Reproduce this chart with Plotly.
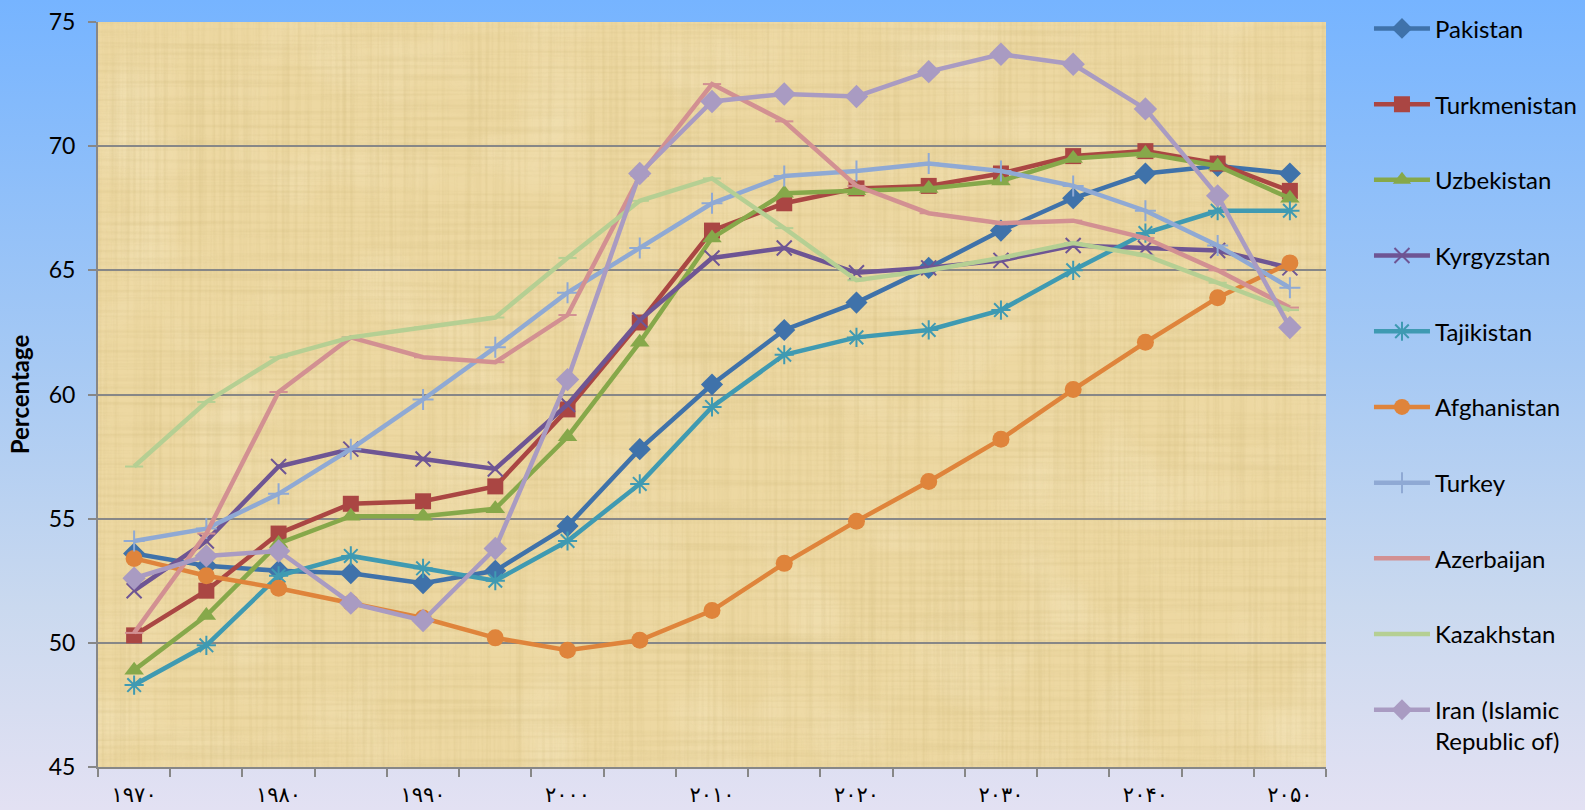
import base64
import plotly.graph_objects as go

# Years on the horizontal axis (5-year steps)
years = [1970, 1975, 1980, 1985, 1990, 1995, 2000, 2005, 2010,
         2015, 2020, 2025, 2030, 2035, 2040, 2045, 2050]

# Labelled years, written with Persian digits
tick_years = [1970, 1980, 1990, 2000, 2010, 2020, 2030, 2040, 2050]
tick_text = ["۱۹۷۰", "۱۹۸۰", "۱۹۹۰", "۲۰۰۰", "۲۰۱۰", "۲۰۲۰", "۲۰۳۰", "۲۰۴۰", "۲۰۵۰"]

pakistan = [53.6, 53.1, 52.9, 52.8, 52.4, 52.9, 54.7, 57.8, 60.4,
            62.6, 63.7, 65.1, 66.6, 67.9, 68.9, 69.2, 68.9]
turkmenistan = [50.3, 52.1, 54.4, 55.6, 55.7, 56.3, 59.4, 62.9, 66.6,
                67.7, 68.3, 68.4, 68.9, 69.6, 69.8, 69.3, 68.2]
uzbekistan = [48.9, 51.1, 54.0, 55.1, 55.1, 55.4, 58.3, 62.1, 66.3,
              68.1, 68.2, 68.3, 68.6, 69.5, 69.7, 69.2, 67.9]
kyrgyzstan = [52.1, 54.1, 57.1, 57.8, 57.4, 57.0, 59.6, 63.0, 65.5,
              65.9, 64.9, 65.1, 65.4, 66.0, 65.9, 65.8, 65.1]
tajikistan = [48.3, 49.9, 52.7, 53.5, 53.0, 52.5, 54.1, 56.4, 59.5,
              61.6, 62.3, 62.6, 63.4, 65.0, 66.5, 67.4, 67.4]
afghanistan = [53.4, 52.7, 52.2, 51.6, 51.0, 50.2, 49.7, 50.1, 51.3,
               53.2, 54.9, 56.5, 58.2, 60.2, 62.1, 63.9, 65.3]
turkey = [54.1, 54.6, 56.0, 57.8, 59.8, 61.9, 64.1, 65.9, 67.7,
          68.8, 69.0, 69.3, 69.0, 68.4, 67.4, 66.0, 64.3]
azerbaijan = [50.4, 54.4, 60.1, 62.3, 61.5, 61.3, 63.2, 68.8, 72.5,
              71.0, 68.4, 67.3, 66.9, 67.0, 66.3, 65.0, 63.5]
kazakhstan = [57.1, 59.7, 61.5, 62.3, 62.7, 63.1, 65.5, 67.8, 68.7,
              66.7, 64.6, 65.0, 65.5, 66.1, 65.6, 64.5, 63.4]
iran = [52.6, 53.5, 53.7, 51.6, 50.9, 53.8, 60.6, 68.9, 71.8,
        72.1, 72.0, 73.0, 73.7, 73.3, 71.5, 68.0, 62.7]

series = [
    ("Pakistan", pakistan, "#3F72AA", "diamond", 17, False),
    ("Turkmenistan", turkmenistan, "#AA4643", "square", 16, False),
    ("Uzbekistan", uzbekistan, "#86A84A", "triangle-up", 17, False),
    ("Kyrgyzstan", kyrgyzstan, "#6E5594", "x-thin-open", 15, True),
    ("Tajikistan", tajikistan, "#3F9AB2", "asterisk-open", 16, True),
    ("Afghanistan", afghanistan, "#DF843B", "circle", 17, False),
    ("Turkey", turkey, "#8FA9D4", "cross-thin-open", 15, True),
    ("Azerbaijan", azerbaijan, "#D29092", "line-ew-open", 13, True),
    ("Kazakhstan", kazakhstan, "#B5CF93", "line-ew-open", 13, True),
    ("Iran (Islamic<br>Republic of)", iran, "#A99BC2", "diamond", 18, False),
]

fig = go.Figure()
for i, (name, vals, color, symbol, size, thin) in enumerate(series):
    marker = dict(symbol=symbol, size=size, color=color)
    if thin:
        marker["line"] = dict(color=color, width=2)
    fig.add_trace(go.Scatter(
        x=years, y=vals, name=name, mode="lines+markers",
        line=dict(color=color, width=4.5),
        marker=marker, legendgroup=f"g{i}",
    ))

# Page background: blue-to-lavender vertical gradient
bg_svg = (
    '<svg xmlns="http://www.w3.org/2000/svg" width="100" height="100" '
    'preserveAspectRatio="none" viewBox="0 0 100 100">'
    '<defs><linearGradient id="g" x1="0" y1="0" x2="0" y2="1">'
    '<stop offset="0" stop-color="#76B4FF"/>'
    '<stop offset="0.45" stop-color="#A6C9F4"/>'
    '<stop offset="0.75" stop-color="#CAD9EF"/>'
    '<stop offset="1" stop-color="#E3E1F3"/>'
    '</linearGradient></defs>'
    '<rect width="100" height="100" fill="url(#g)"/></svg>'
)

# Papyrus-like fibrous texture for the plotting area
pap_svg = (
    '<svg xmlns="http://www.w3.org/2000/svg" width="1228" height="745" '
    'preserveAspectRatio="none" viewBox="0 0 1228 745">'
    '<defs>'
    '<filter id="h" x="0" y="0" width="100%" height="100%">'
    '<feTurbulence type="fractalNoise" baseFrequency="0.004 0.25" numOctaves="2" seed="3"/>'
    '<feColorMatrix type="matrix" values="0 0 0 0 0.55  0 0 0 0 0.42  0 0 0 0 0.15  0 0 0 -1.3 0.75"/>'
    '</filter>'
    '<filter id="v" x="0" y="0" width="100%" height="100%">'
    '<feTurbulence type="fractalNoise" baseFrequency="0.25 0.004" numOctaves="2" seed="7"/>'
    '<feColorMatrix type="matrix" values="0 0 0 0 0.55  0 0 0 0 0.42  0 0 0 0 0.15  0 0 0 -1.3 0.75"/>'
    '</filter>'
    '<filter id="b" x="0" y="0" width="100%" height="100%">'
    '<feTurbulence type="fractalNoise" baseFrequency="0.012 0.012" numOctaves="2" seed="11"/>'
    '<feColorMatrix type="matrix" values="0 0 0 0 1  0 0 0 0 0.96  0 0 0 0 0.82  0 0 0 -1.2 0.62"/>'
    '</filter>'
    '</defs>'
    '<rect width="1228" height="745" fill="#EDD8A2"/>'
    '<rect width="1228" height="745" filter="url(#b)" opacity="0.45"/>'
    '<rect width="1228" height="745" filter="url(#h)" opacity="0.35"/>'
    '<rect width="1228" height="745" filter="url(#v)" opacity="0.35"/>'
    '</svg>'
)


def data_uri(svg):
    return "data:image/svg+xml;base64," + base64.b64encode(svg.encode()).decode()


W, H = 1585, 810
ML, MR, MT, MB = 98, 259, 22, 43
PW, PH = W - ML - MR, H - MT - MB

fig.add_layout_image(dict(
    source=data_uri(bg_svg), xref="paper", yref="paper",
    x=-ML / PW, y=1 + MT / PH, sizex=W / PW, sizey=H / PH,
    xanchor="left", yanchor="top", sizing="stretch", layer="below",
))
fig.add_layout_image(dict(
    source=data_uri(pap_svg), xref="paper", yref="paper",
    x=0, y=1, sizex=1, sizey=1,
    xanchor="left", yanchor="top", sizing="stretch", layer="below",
))

grey = "#878787"
fig.update_layout(
    width=W, height=H,
    margin=dict(l=ML, r=MR, t=MT, b=MB, autoexpand=False),
    paper_bgcolor="#A6C9F4",
    plot_bgcolor="#EDD8A2",
    font=dict(family="Lato, Carlito, sans-serif", color="#000000"),
    showlegend=True,
    legend=dict(
        x=1.035, y=1.021, xanchor="left", yanchor="top",
        font=dict(size=24, family="Lato, sans-serif", color="#000000"),
        bgcolor="rgba(0,0,0,0)", itemwidth=56, valign="top",
        tracegroupgap=41.5, traceorder="grouped",
        maxheight=805,
    ),
    xaxis=dict(
        range=[1967.5, 2052.5], tickmode="array",
        tickvals=tick_years, ticktext=tick_text, ticks="",
        tickfont=dict(family="DejaVu Sans", size=21, color="#000000"),
        ticklabelstandoff=8,
        showgrid=False, zeroline=False,
        showline=True, linecolor=grey, linewidth=2,
        minor=dict(ticks="outside", tick0=1967.5, dtick=5, ticklen=8,
                   tickcolor=grey, tickwidth=2, showgrid=False),
        fixedrange=True,
    ),
    yaxis=dict(
        range=[45, 75], dtick=5, tick0=45,
        ticks="outside", ticklen=8, tickcolor=grey, tickwidth=2,
        tickfont=dict(family="Lato, sans-serif", size=23, color="#000000"),
        ticklabelstandoff=8,
        showgrid=True, gridcolor=grey, gridwidth=1.5,
        zeroline=False, showline=True, linecolor=grey, linewidth=2,
        title=dict(text="<b>Percentage</b>", standoff=12,
                   font=dict(family="Lato, sans-serif", size=24, color="#000000")),
        automargin=False, fixedrange=True,
    ),
)

fig.write_html("out.html")
